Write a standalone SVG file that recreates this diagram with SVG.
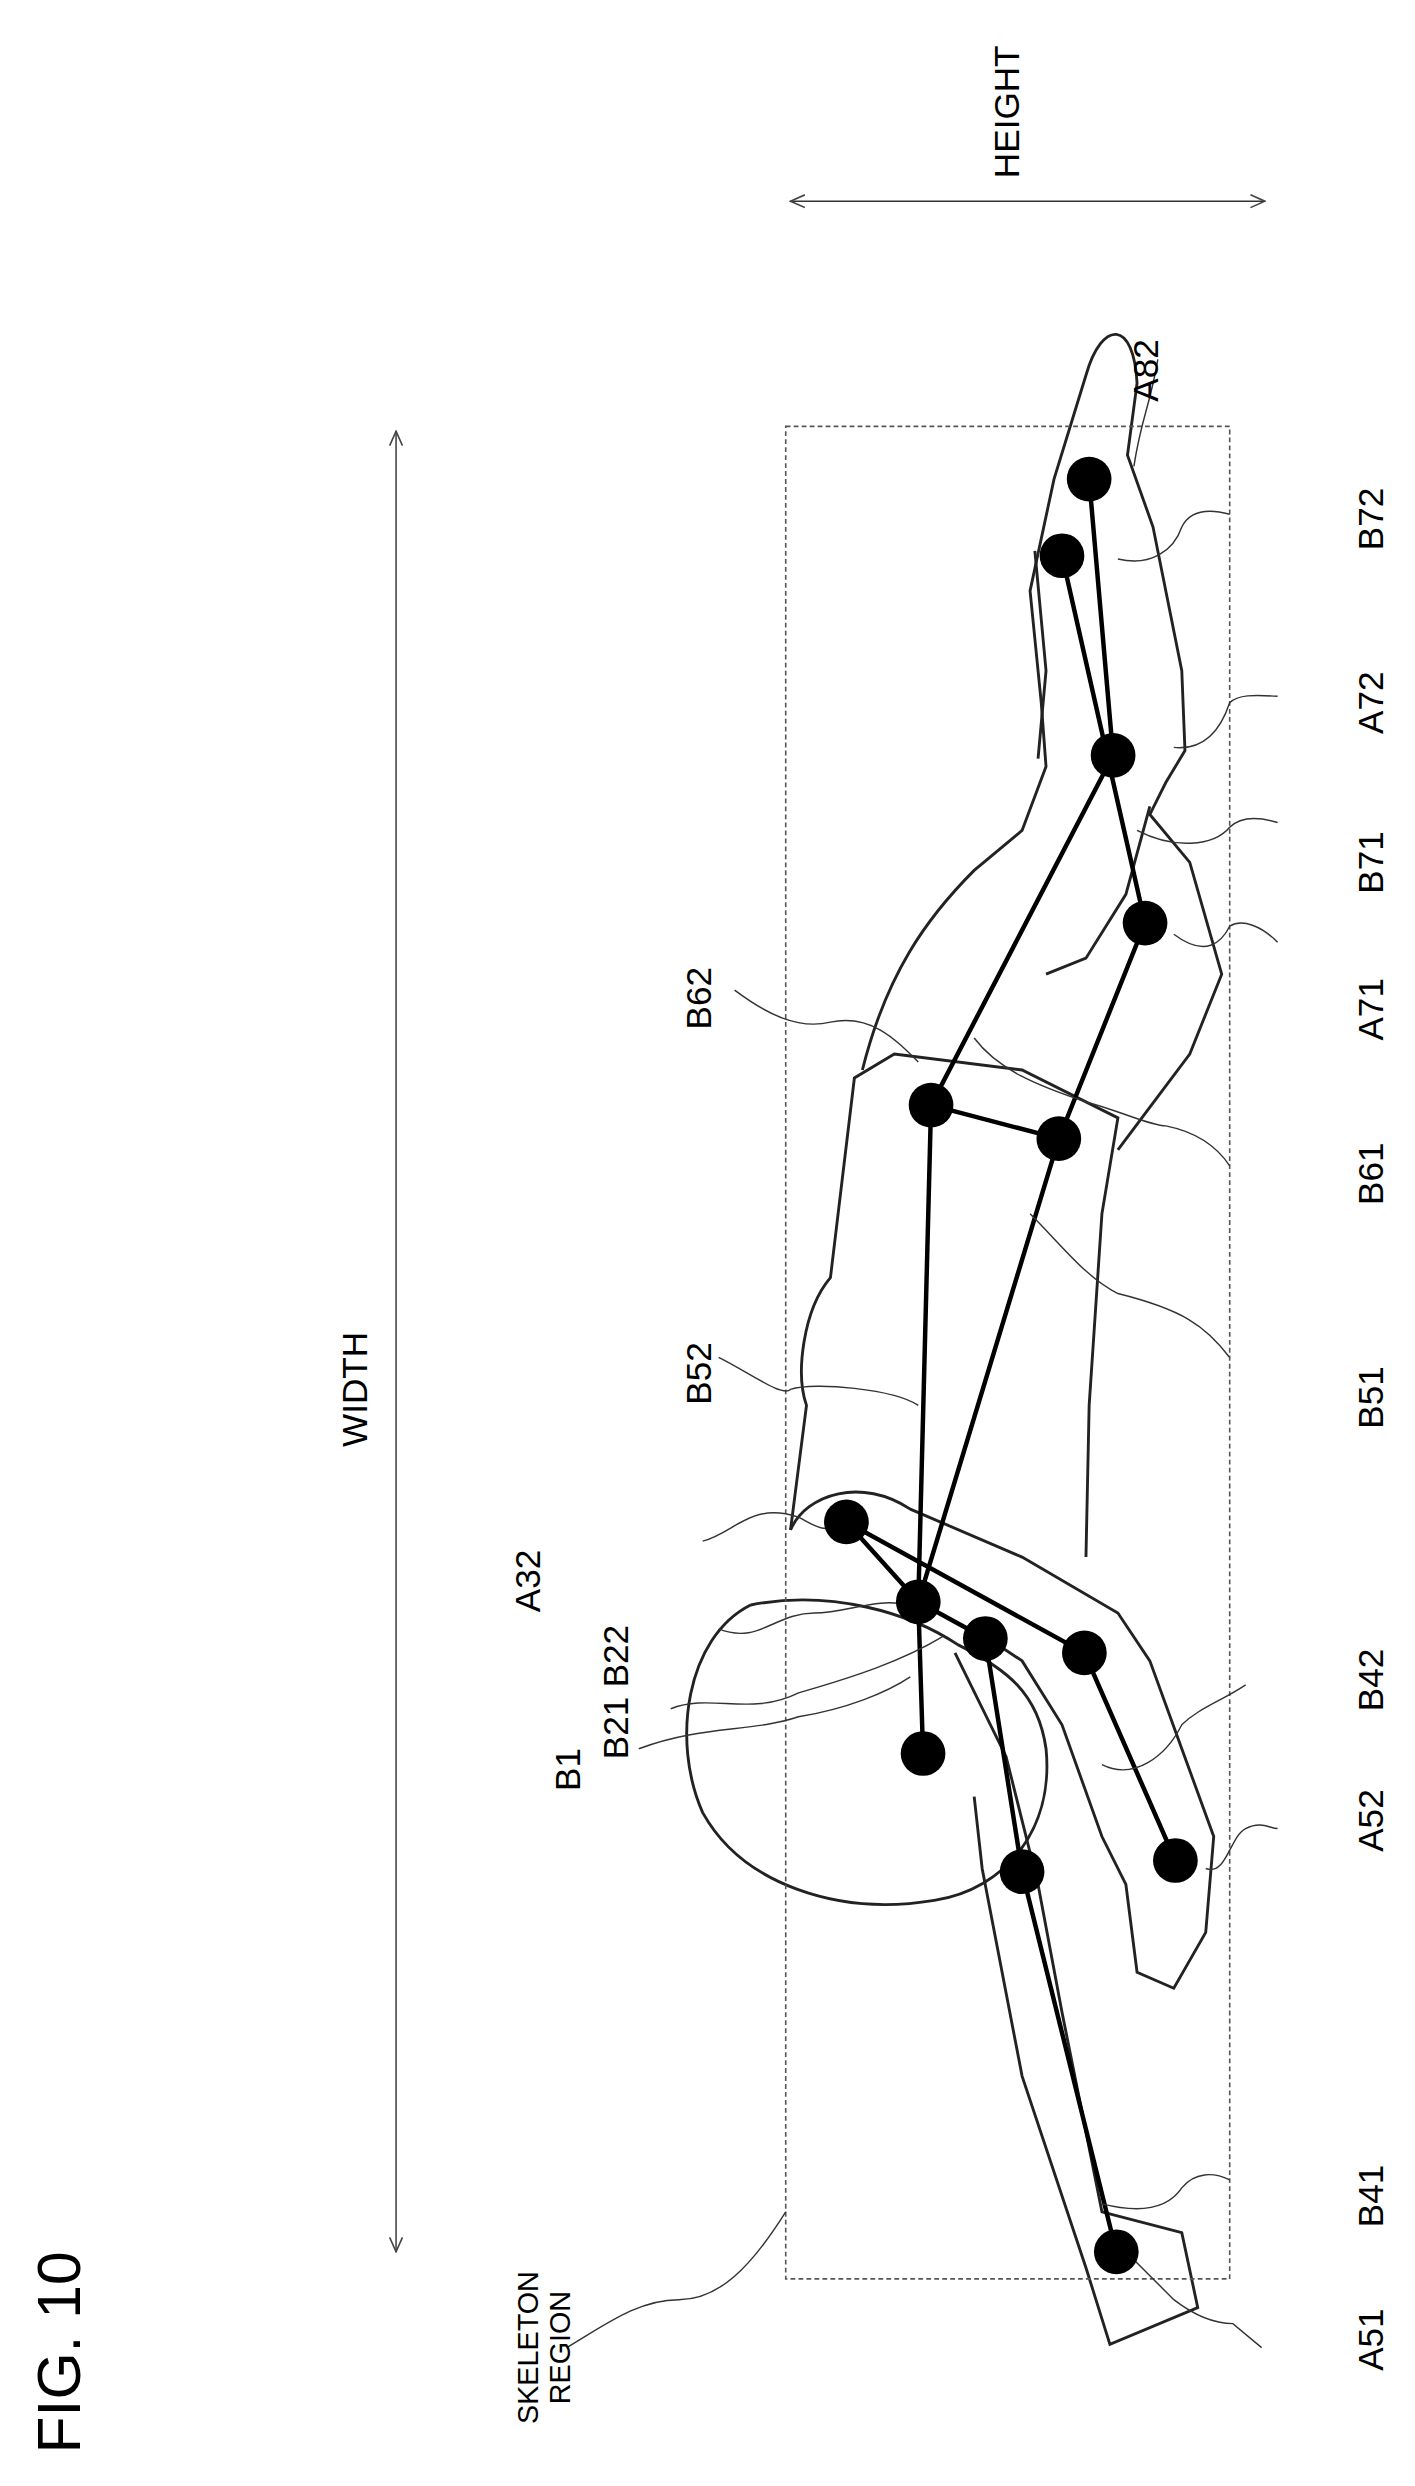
<svg xmlns="http://www.w3.org/2000/svg" width="1415" height="2486" viewBox="0 0 1415 2486">
<defs>
<style>
.o{fill:none;stroke:#222;stroke-width:1.8}
.b{fill:none;stroke:#000;stroke-width:2.8}
.l{fill:none;stroke:#333;stroke-width:0.9}
.d{fill:none;stroke:#555;stroke-width:1;stroke-dasharray:3 2}
.j{fill:#000}
.t{font-family:"Liberation Sans",Arial,sans-serif;font-size:22px;fill:#000;text-anchor:middle}
</style>
<marker id="ah" viewBox="0 0 10 10" refX="9" refY="5" markerWidth="10" markerHeight="10" orient="auto-start-reverse" markerUnits="userSpaceOnUse"><path d="M0,1 L9,5 L0,9" fill="none" stroke="#444" stroke-width="1"/></marker>
</defs>
<rect width="1415" height="2486" fill="#fff"/>
<g transform="scale(1.597)">
<g id="outline">
<path class="o" d="M470,1005 C430,1025 420,1090 440,1135 C465,1180 525,1200 585,1190 C630,1183 660,1145 655,1095 C650,1060 630,1045 600,1030 C570,1010 520,995 470,1005"/>
<path class="o" d="M495,958 C505,935 540,925 570,945 L640,975 L700,1010 L720,1040 L740,1095 L760,1150 L755,1210 L735,1245 L712,1235 L705,1180 L690,1150 L665,1080 L640,1040 L610,1020"/>
<path class="o" d="M598,1035 L630,1100 L650,1180 L665,1260 L690,1385 L740,1398 L750,1445 L695,1468 L680,1420 L640,1300 L615,1170 L610,1125"/>
<path class="o" d="M495,958 L505,880 C498,860 503,820 520,800 L535,675 L560,660 L640,670 L700,700 L690,760 L682,880 L680,975"/>
<path class="o" d="M540,670 C555,610 580,575 610,545 L640,520 L655,480 L652,440 L645,370 L660,300 L680,235 C690,200 710,200 712,240 L706,285 L722,330 L740,420 L742,470 L730,490 L720,510 L745,540 L765,610 L745,660 L715,700 L700,720"/>
<path class="o" d="M720,505 L705,560 L680,600 L655,610"/>
<path class="o" d="M648,345 L655,420 L650,475"/>
</g>
<g id="skeleton-region"><rect class="d" x="492" y="267" width="278" height="1160"/></g>
<g id="connectors">
<path class="b" d="M682,300 L697,473 L583,692 L575,1003 L663,713 L717,578 L665,348 M583,692 L663,713 M530,953 L575,1003 L617,1026 L640,1172 L699,1410 M575,1003 L578,1098 M530,953 L679,1035 L736,1165"/>
<line class="l" x1="248" y1="270" x2="248" y2="1410" marker-start="url(#ah)" marker-end="url(#ah)"/>
<line class="l" x1="495" y1="126" x2="792" y2="126" marker-start="url(#ah)" marker-end="url(#ah)"/>
<path class="l" d="M710,292 C715,260 720,255 725,225"/>
<path class="l" d="M700,350 C720,355 735,345 740,330 C745,320 755,318 770,322"/>
<path class="l" d="M735,468 C755,470 765,455 770,440 C775,435 785,435 800,436"/>
<path class="l" d="M712,520 C735,532 760,530 770,518 C778,510 790,512 800,515"/>
<path class="l" d="M735,585 C755,600 765,590 770,580 C778,575 790,580 800,590"/>
<path class="l" d="M610,650 C625,670 650,680 680,690 C700,695 720,705 730,705 C745,708 760,715 770,730"/>
<path class="l" d="M460,620 C480,635 500,645 520,640 C545,635 560,650 575,665"/>
<path class="l" d="M645,760 C665,780 680,800 700,810 C740,820 755,830 770,850"/>
<path class="l" d="M450,850 C470,860 490,875 495,870 C510,865 560,870 575,880"/>
<path class="l" d="M440,965 C460,960 470,940 500,950 C510,955 515,960 525,955"/>
<path class="l" d="M450,1020 C475,1030 485,1010 510,1010 C530,1010 550,1000 568,1005"/>
<path class="l" d="M420,1070 C445,1060 470,1075 500,1060 C535,1050 565,1040 590,1025"/>
<path class="l" d="M400,1095 C440,1080 470,1085 500,1075 C530,1070 555,1060 570,1050"/>
<path class="l" d="M690,1105 C710,1115 730,1100 740,1080 C750,1070 765,1065 780,1055"/>
<path class="l" d="M755,1170 C768,1175 770,1150 780,1145 C790,1140 795,1145 800,1145"/>
<path class="l" d="M690,1380 C710,1385 730,1385 740,1370 C748,1360 760,1360 770,1365"/>
<path class="l" d="M700,1405 L735,1440 C748,1450 760,1455 772,1455 L790,1470"/>
<path class="l" d="M355,1470 C380,1455 400,1440 425,1440 C450,1440 470,1420 492,1385"/>
</g>
<g id="joints">
<circle class="j" cx="682" cy="300" r="14"/><circle class="j" cx="665" cy="348" r="14"/>
<circle class="j" cx="697" cy="473" r="14"/><circle class="j" cx="717" cy="578" r="14"/>
<circle class="j" cx="583" cy="692" r="14"/><circle class="j" cx="663" cy="713" r="14"/>
<circle class="j" cx="530" cy="953" r="14"/><circle class="j" cx="575" cy="1003" r="14"/>
<circle class="j" cx="617" cy="1026" r="14"/><circle class="j" cx="679" cy="1035" r="14"/>
<circle class="j" cx="578" cy="1098" r="14"/><circle class="j" cx="736" cy="1165" r="14"/>
<circle class="j" cx="640" cy="1172" r="14"/><circle class="j" cx="699" cy="1410" r="14"/>
</g>
<g id="labels" class="t">
<text transform="translate(638,70) rotate(-90)">HEIGHT</text>
<text transform="translate(725,232) rotate(-90)">A82</text>
<text transform="translate(866,325) rotate(-90)">B72</text>
<text transform="translate(866,440) rotate(-90)">A72</text>
<text transform="translate(866,540) rotate(-90)">B71</text>
<text transform="translate(866,632) rotate(-90)">A71</text>
<text transform="translate(866,735) rotate(-90)">B61</text>
<text transform="translate(445,625) rotate(-90)">B62</text>
<text transform="translate(445,860) rotate(-90)">B52</text>
<text transform="translate(866,875) rotate(-90)">B51</text>
<text transform="translate(338,990) rotate(-90)">A32</text>
<text transform="translate(393,1037) rotate(-90)">B22</text>
<text transform="translate(393,1082) rotate(-90)">B21</text>
<text transform="translate(363,1108) rotate(-90)">B1</text>
<text transform="translate(866,1052) rotate(-90)">B42</text>
<text transform="translate(866,1140) rotate(-90)">A52</text>
<text transform="translate(866,1375) rotate(-90)">B41</text>
<text transform="translate(866,1465) rotate(-90)">A51</text>
<text transform="translate(230,870) rotate(-90)">WIDTH</text>
<text transform="translate(337,1470) rotate(-90)" style="font-size:18px">SKELETON</text>
<text transform="translate(357,1470) rotate(-90)" style="font-size:18px">REGION</text>
<text transform="translate(50,1473) rotate(-90)" style="font-size:38px">FIG. 10</text>
</g>
</g>
</svg>
